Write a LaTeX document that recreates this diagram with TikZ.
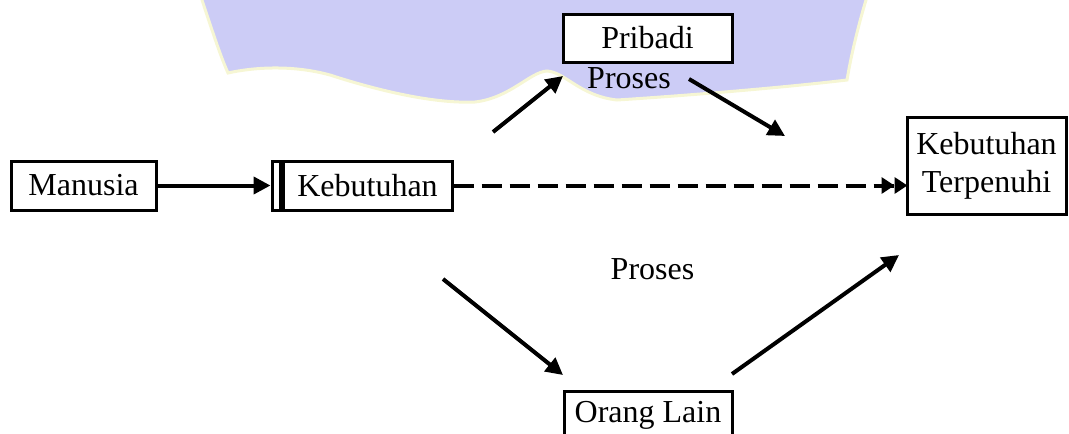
\documentclass[tikz,border=0pt]{standalone}
\usepackage{fontspec}
\setmainfont{Liberation Serif}
\usetikzlibrary{arrows.meta,calc}
\definecolor{wm}{RGB}{204,204,246}
\definecolor{wmedge}{RGB}{246,246,212}
\begin{document}
\begin{tikzpicture}[x=1pt,y=-1pt,
  box/.style={draw,line width=3pt,inner sep=0pt,font=\fontsize{32}{38}\selectfont},
  lbl/.style={inner sep=0pt,font=\fontsize{32}{38}\selectfont},
  conn/.style={line width=4pt,-{Triangle[length=17pt,width=17pt]}},
  dconn/.style={line width=4pt,dash pattern=on 20pt off 8pt,
    -{Triangle[length=13pt,width=16pt]Triangle[length=13pt,width=16pt,sep=-2pt]}},
]
\useasboundingbox (0,0) rectangle (1069,434);
% watermark
\fill[wm, draw=wmedge, line width=3pt] (202,-5) -- (202,0)
  .. controls (212,30) and (220,55) .. (228,73)
  .. controls (250,68) and (290,64) .. (330,75)
  .. controls (370,88) and (430,104) .. (475,102)
  .. controls (510,98) and (530,72) .. (547,71)
  .. controls (565,72) and (580,96) .. (617,100)
  .. controls (680,96) and (780,88) .. (847,80)
  .. controls (852,50) and (860,20) .. (866,0) -- (866,-5) -- cycle;
% nodes
\node[box,minimum width=145pt,minimum height=49pt] (man) at (83.5,185.5) {Manusia};
\node[box,minimum width=169pt,minimum height=49pt] (keb) at (367.5,185.5) {Kebutuhan};
\node[box,minimum width=8pt,minimum height=49pt,anchor=east] (kebl) at (keb.west) {};
\node[box,minimum width=159pt,minimum height=97pt,align=center] (kt) at (986.5,165.5) {Kebutuhan\\Terpenuhi};
\node[box,fill=white,minimum width=169pt,minimum height=48pt] (pri) at (647.5,38) {Pribadi};
\node[box,minimum width=168pt,minimum height=49pt] (ora) at (648,415.5) {Orang Lain};
\node[lbl,anchor=base] (p1) at (629,88) {Proses};
\node[lbl,anchor=base] (p2) at (652.5,279) {Proses};
% free arrow ends
\coordinate (a1s) at (493,132); \coordinate (a1e) at (563,76);
\coordinate (a2s) at (689,79);  \coordinate (a2e) at (785,136);
\coordinate (a3s) at (443,279); \coordinate (a3e) at (563,375);
\coordinate (a4s) at (732,374); \coordinate (a4e) at (899,255);
% connectors
\draw[conn] (man.east) -- (kebl.west);
\draw[dconn] (keb.east) -- (keb.east -| kt.west);
\draw[conn] (a1s) -- (a1e);
\draw[conn] (a2s) -- (a2e);
\draw[conn] (a3s) -- (a3e);
\draw[conn] (a4s) -- (a4e);
\end{tikzpicture}
\end{document}
